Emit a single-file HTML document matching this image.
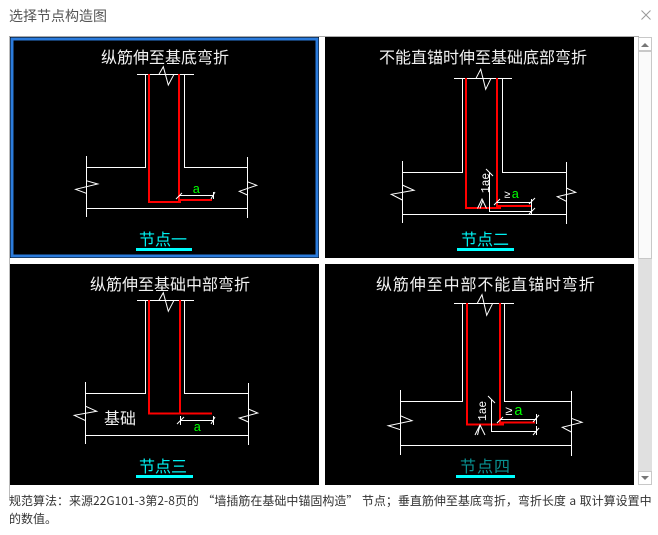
<!DOCTYPE html>
<html><head><meta charset="utf-8"><style>
html,body{margin:0;padding:0;background:#fff;width:658px;height:535px;overflow:hidden}
svg{position:absolute;left:0;top:0}
.w{stroke:#fff;stroke-width:1;fill:none;shape-rendering:crispEdges}
.b{stroke:#fff;stroke-width:1;fill:none}
.r{stroke:#f00;stroke-width:2;fill:none;shape-rendering:crispEdges}
.g{font-family:"Liberation Mono",monospace;font-size:13px;fill:#0f0}
.m{font-family:"Liberation Mono",monospace;font-size:12px;fill:#fff}
.h{position:absolute;font-family:"Noto Sans CJK SC","Liberation Sans",sans-serif;white-space:nowrap}
.t,.c{position:absolute;font-family:"WenQuanYi Zen Hei","Noto Sans CJK SC",sans-serif;font-size:16px;line-height:20px;white-space:nowrap;color:#fff;opacity:.95}
.c{color:#0ff}
</style></head><body>
<svg width="658" height="535" viewBox="0 0 658 535">
<rect x="9" y="36" width="630" height="1" fill="#aaa"/>
<rect x="9" y="36" width="1" height="464" fill="#aaa" opacity=".8"/>
<rect x="10" y="37" width="309" height="221" fill="#000"/>
<rect x="325" y="37" width="309" height="221" fill="#000"/>
<rect x="10" y="264" width="309" height="221" fill="#000"/>
<rect x="325" y="264" width="309" height="221" fill="#000"/>
<rect x="12" y="39" width="305" height="217" fill="none" stroke="#2b7bdc" stroke-width="3"/>

<rect x="638" y="37" width="14" height="448" fill="#e0e0e0"/>
<rect x="638.5" y="51.5" width="13" height="207" fill="#fafafa" stroke="#c8c8c8"/>
<rect x="638.5" y="37.5" width="13" height="13" fill="#fff" stroke="#c8c8c8"/>
<rect x="638.5" y="471.5" width="13" height="13" fill="#fff" stroke="#c8c8c8"/>
<path d="M641 47L645 43L649 47Z" fill="#777"/>
<path d="M641 476H649L645 480Z" fill="#777"/>
<path d="M641.5 10.5L650.5 19.5M650.5 10.5L641.5 19.5" stroke="#999" stroke-width="1" fill="none"/>

<!-- Panel 1 -->
<path class="w" d="M137 74.5H194M145.5 74V167.5H86.5M184.5 74V167.5H247.5M86.5 156V217M247.5 157V218M86 208.5H248"/>
<path class="b" d="M159 74.3L163.3 66.7L168.3 85L174 74.3"/>
<path class="b" d="M86.3 180.7L97.7 184L75.7 189.3L86.3 193.3"/>
<path class="b" d="M247.3 181.7L256.7 185.3L239.3 191.3L247.3 195"/>
<path class="r" d="M149 74V202H181M179 74V200H212"/>
<path class="w" d="M179 195.5H213M213.5 192V199"/>
<path class="b" d="M176 199L182 193M211 199L215 192"/>
<text class="g" x="192.5" y="193">a</text>
<rect x="136" y="248" width="56" height="3" fill="#0ff"/>

<!-- Panel 2 -->
<path class="w" d="M454 78.5H512M462.5 78V172.5H402.5M502.5 78V172.5H566.5M402.5 161V223M566.5 162V224M402 214.5H567"/>
<path class="b" d="M476 78.3L480.7 69.3L485.7 89.3L491 78.3"/>
<path class="b" d="M402.3 185L414 190.3L391.3 194.3L402.3 200"/>
<path class="b" d="M566.3 188L575.7 192.3L557.3 196.7L566.3 201.3"/>
<path class="r" d="M466 78V208H501M497 78V206H531"/>
<path class="w" d="M497 202.5H531.5M489.5 172V211.5H532M531.5 199V214"/>
<path class="b" d="M494 205L500 199M529 204L535 198M529 214L535 208M486 169L493 176"/>
<path class="b" d="M477.5 208.5L482 199L486.5 208.5M480 208.5L483 200"/>
<text class="m" transform="translate(489,193) rotate(-90) scale(.93,1)">1ae</text>
<text class="m" x="504" y="198" style="font-size:11px">≥</text>
<text class="g" x="511.5" y="198">a</text>
<rect x="457" y="248" width="57" height="3" fill="#0ff"/>

<!-- Panel 3 -->
<path class="w" d="M137 300.5H194M145.5 300V393.5H85.5M184.5 300V393.5H248.5M85.5 382V444M248.5 383V445M85 435.5H249"/>
<path class="b" d="M159 300.3L163.3 292.7L168.3 311.3L174 300.3"/>
<path class="b" d="M85.7 406.3L96.7 411.3L74.3 415.3L85.7 420.7"/>
<path class="b" d="M248.3 409L257.7 413L239.3 418L248.3 422"/>
<path class="r" d="M149 300V413.5H212M180 300V413"/>
<path class="w" d="M180 420.5H213M180.5 416V425M213.5 416V425"/>
<path class="b" d="M177 424L184 417M211 424L215 417"/>
<text class="g" x="193.5" y="431">a</text>
<rect x="136" y="475" width="57" height="3" fill="#0ff"/>

<!-- Panel 4 -->
<path class="w" d="M454 303.5H514M462.5 303V401.5H400.5M504.5 303V401.5H571.5M400.5 390V455M571.5 391V456M400 445.5H572"/>
<path class="b" d="M477.3 303.3L482 294.7L486.7 315.3L492.7 303.3"/>
<path class="b" d="M400.3 415.7L412 420.7L388.3 425.7L400.3 429.7"/>
<path class="b" d="M571.3 418.3L582 422.3L562.3 427.3L571.3 432"/>
<path class="r" d="M467 303V424.5H504M500 303V422.5H535"/>
<path class="w" d="M500 419.5H536M491.5 399V431.5H537M536.5 414V424M536.5 426V435"/>
<path class="b" d="M497 423L503 417M533 422L539 415M533 435L539 428M488 396L495 403"/>
<path class="b" d="M475 435L480 425L485 435M477.5 435L480 425"/>
<text class="m" transform="translate(486,421) rotate(-90) scale(.93,1)">1ae</text>
<text class="m" x="505" y="415" style="font-size:13px">≥</text>
<text class="g" x="514" y="415" style="font-size:15px">a</text>
<rect x="456" y="475" width="59" height="3" fill="#0ff"/>
</svg>
<div class="t" style="left:101px;top:46px">纵筋伸至基底弯折</div>
<div class="c" style="left:139px;top:228px">节点一</div>
<div class="t" style="left:379px;top:46px">不能直锚时伸至基础底部弯折</div>
<div class="c" style="left:461px;top:228px">节点二</div>
<div class="t" style="left:90px;top:273px">纵筋伸至基础中部弯折</div>
<div class="t" style="left:104px;top:407px">基础</div>
<div class="c" style="left:139px;top:455px">节点三</div>
<div class="t" style="left:376px;top:273px;letter-spacing:.9px">纵筋伸至中部不能直锚时弯折</div>
<div class="c" style="left:460px;top:455px;color:#0a9a9a;letter-spacing:1px">节点四</div>
<div class="h" style="left:9px;top:6px;font-size:14px;line-height:20px;color:#555">选择节点构造图</div>
<div class="h" style="left:9px;top:492px;font-size:12px;line-height:18px;color:#333;word-spacing:.8px">规范算法：来源22G101-3第2-8页的 “墙插筋在基础中锚固构造” 节点；垂直筋伸至基底弯折，弯折长度 a 取计算设置中<br>的数值。</div>
</body></html>
